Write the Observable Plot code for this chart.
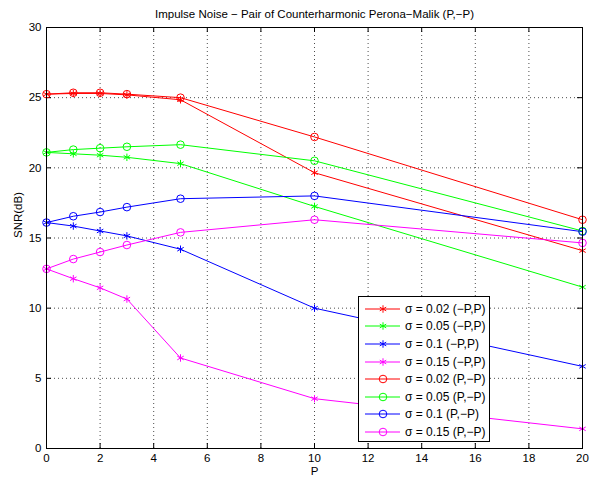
<!DOCTYPE html>
<html><head><meta charset="utf-8">
<script src="https://cdn.jsdelivr.net/npm/d3@7"></script>
<script src="https://cdn.jsdelivr.net/npm/@observablehq/plot@0.6"></script>
<style>
body{margin:0;background:#fff;font-family:"Liberation Sans",Arial,sans-serif}
#wrap{position:relative;width:595px;height:479px}
#legend{position:absolute;left:358px;top:296px;width:130px;height:141px;border:1px solid #000;background:#fff;box-sizing:content-box;padding-top:3px}
.row{display:flex;align-items:center;height:17.6px;font-size:12px;color:#000;white-space:nowrap}
.row svg{margin-left:6px;margin-right:5px}
</style></head>
<body><div id="wrap"><div id="legend"></div></div>
<script>
const P = [0, 1, 2, 3, 5, 10, 20];
const sigmas = ["0.02", "0.05", "0.1", "0.15"];
const colors = ["#ff0000", "#00ff00", "#0000ff", "#ff00ff"];
const xTicks = [0, 2, 4, 6, 8, 10, 12, 14, 16, 18, 20];
const yTicks = [0, 5, 10, 15, 20, 25, 30];
// (-P,P) series
const minus002 = [25.25, 25.3, 25.3, 25.2, 24.85, 19.65, 14.1];
const minus005 = [21.1, 21.0, 20.9, 20.75, 20.3, 17.25, 11.5];
const minus010 = [16.1, 15.85, 15.5, 15.15, 14.2, 10.0, 5.85];
const minus015 = [12.8, 12.1, 11.45, 10.65, 6.45, 3.55, 1.4];
// (P,-P) series
const plus002 = [25.25, 25.35, 25.35, 25.25, 25.0, 22.2, 16.3];
const plus005 = [21.1, 21.3, 21.4, 21.5, 21.65, 20.5, 15.5];
const plus010 = [16.1, 16.55, 16.85, 17.2, 17.8, 18.0, 15.45];
const plus015 = [12.8, 13.5, 14.0, 14.5, 15.4, 16.3, 14.65];

const series = [
  {sigma: "0.02", kind: "(−P,P)", values: minus002},
  {sigma: "0.05", kind: "(−P,P)", values: minus005},
  {sigma: "0.1", kind: "(−P,P)", values: minus010},
  {sigma: "0.15", kind: "(−P,P)", values: minus015},
  {sigma: "0.02", kind: "(P,−P)", values: plus002},
  {sigma: "0.05", kind: "(P,−P)", values: plus005},
  {sigma: "0.1", kind: "(P,−P)", values: plus010},
  {sigma: "0.15", kind: "(P,−P)", values: plus015}
];
const rows = series.flatMap(s => s.values.map((v, i) => ({P: P[i], snr: v, sigma: s.sigma, kind: s.kind, key: s.sigma + s.kind})));
const minusRows = rows.filter(d => d.kind === "(−P,P)");
const plusRows = rows.filter(d => d.kind === "(P,−P)");

const W = 595, H = 479, mL = 46, mR = 13, mT = 27, mB = 31;
const innerH = H - mT - mB, innerW = W - mL - mR, tl = 5;

const chart = Plot.plot({
  width: W, height: H, marginLeft: mL, marginRight: mR, marginTop: mT, marginBottom: mB,
  style: {fontFamily: '"Liberation Sans", Arial, sans-serif', fontSize: "11.5px", color: "#000", background: "#fff"},
  x: {domain: [0, 20]},
  y: {domain: [0, 30]},
  color: {domain: sigmas, range: colors},
  marks: [
    Plot.gridX(xTicks, {stroke: "#000", strokeOpacity: 0.7, strokeDasharray: "1,3"}),
    Plot.gridY(yTicks, {stroke: "#000", strokeOpacity: 0.7, strokeDasharray: "1,3"}),
    Plot.axisX(xTicks, {tickSize: 0, tickPadding: 5, label: null}),
    Plot.axisY(yTicks, {tickSize: 0, tickPadding: 5, label: null}),
    Plot.tickX(xTicks, {x: d => d, insetTop: innerH - tl, stroke: "#000"}),
    Plot.tickX(xTicks, {x: d => d, insetBottom: innerH - tl, stroke: "#000"}),
    Plot.tickY(yTicks, {y: d => d, insetRight: innerW - tl, stroke: "#000"}),
    Plot.tickY(yTicks, {y: d => d, insetLeft: innerW - tl, stroke: "#000"}),
    Plot.line(rows, {x: "P", y: "snr", z: "key", stroke: "sigma", strokeWidth: 1}),
    Plot.dot(minusRows, {x: "P", y: "snr", stroke: "sigma", symbol: "asterisk", r: 3.5, strokeWidth: 1}),
    Plot.dot(plusRows, {x: "P", y: "snr", stroke: "sigma", symbol: "circle", fill: "none", r: 3.8, strokeWidth: 1}),
    Plot.frame({stroke: "#000"}),
    Plot.text(["Impulse Noise − Pair of Counterharmonic Perona−Malik (P,−P)"], {frameAnchor: "top", lineAnchor: "middle", dy: -13, fontSize: 11.5}),
    Plot.text(["SNR(dB)"], {frameAnchor: "left", rotate: -90, dx: -28, fontSize: 11.5}),
    Plot.text(["P"], {frameAnchor: "bottom", lineAnchor: "middle", dy: 23, fontSize: 11.5})
  ]
});
document.getElementById("wrap").insertBefore(chart, document.getElementById("legend"));

const legend = d3.select("#legend");
series.forEach(s => {
  const c = colors[sigmas.indexOf(s.sigma)];
  const row = legend.append("div").attr("class", "row");
  const svg = row.append("svg").attr("width", 35).attr("height", 12);
  svg.append("line").attr("x1", 0).attr("x2", 35).attr("y1", 6).attr("y2", 6).attr("stroke", c);
  if (s.kind === "(−P,P)") {
    svg.append("path").attr("d", d3.symbol(d3.symbolAsterisk, 3.5 * 3.5 * Math.PI)()).attr("transform", "translate(18,6)").attr("stroke", c).attr("fill", "none");
  } else {
    svg.append("circle").attr("cx", 18).attr("cy", 6).attr("r", 3.8).attr("stroke", c).attr("fill", "none");
  }
  row.append("span").text(`σ = ${s.sigma} ${s.kind}`);
});
</script>
</body></html>
